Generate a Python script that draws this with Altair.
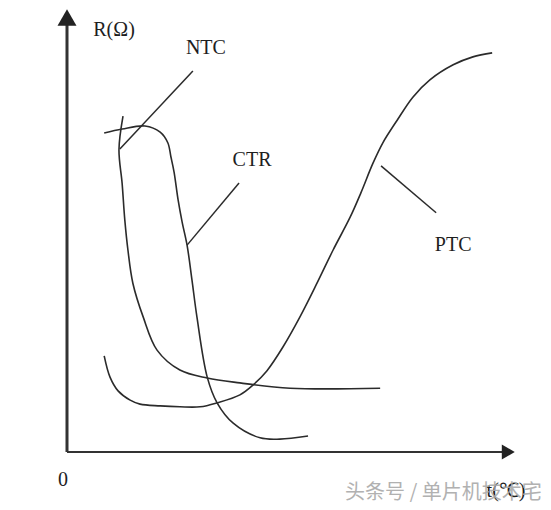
import altair as alt
import pandas as pd

# ---- curve data (temperature t, resistance R), arbitrary units ----
ntc_t = [12.5, 11.6, 12.3, 12.9, 13.6, 14.7, 17.0, 20.1, 25.2, 31.3, 38.6, 49.8, 69.9]
ntc_r = [75.8, 68.2, 60.7, 52.4, 45.6, 38.1, 30.5, 23.0, 18.5, 16.7, 15.6, 14.4, 14.4]

ctr_t = [8.3, 12.3, 17.4, 20.8, 22.5, 23.2, 23.9, 24.8, 25.7, 26.8, 27.9, 29.0, 31.3, 33.5, 37.1, 43.1, 47.5, 53.8]
ctr_r = [72.0, 72.9, 73.6, 72.2, 69.8, 66.6, 63.2, 56.9, 51.9, 46.7, 38.8, 30.5, 16.9, 11.1, 6.5, 3.2, 2.9, 3.6]

ptc_t = [8.3, 9.6, 11.4, 14.1, 16.3, 20.8, 25.2, 29.7, 33.5, 38.6, 41.5, 44.6, 48.2, 52.0,
         55.8, 59.4, 63.2, 65.6, 68.3, 70.5, 73.7, 77.2, 81.0, 86.2, 90.6, 94.9]
ptc_r = [21.7, 16.9, 13.8, 11.7, 10.8, 10.4, 10.2, 10.2, 11.1, 12.9, 15.1, 18.3, 23.7, 30.5,
         38.1, 45.6, 53.0, 58.5, 65.2, 69.8, 74.9, 80.1, 84.0, 87.4, 89.2, 90.1]

# ---- leader lines (start, end) ----
leader_names = ["NTC", "CTR", "PTC"]
leader_t0 = [28.1, 38.4, 70.1]
leader_r0 = [86.0, 60.7, 64.6]
leader_t1 = [11.8, 26.8, 82.4]
leader_r1 = [68.4, 46.7, 54.0]

# ---- labels ----
label_text = ["R(Ω)", "NTC", "CTR", "PTC", "0", "t(℃)"]
label_t = [10.5, 31.0, 41.3, 86.2, -0.9, 98.0]
label_r = [95.3, 91.2, 65.9, 46.7, -6.3, -8.9]

watermark = "头条号 / 单片机技术宅"
watermark_t = [84.0]
watermark_r = [-9.3]

# axis extent
axis_max = 100

# ---- build tables ----
rows = []
for name, ts, rs in [("NTC", ntc_t, ntc_r), ("CTR", ctr_t, ctr_r), ("PTC", ptc_t, ptc_r)]:
    for i, (t, r) in enumerate(zip(ts, rs)):
        rows.append({"t": t, "R": r, "series": name, "i": i})
curves = pd.DataFrame(rows)

lrows = []
for n, a, b, c, d in zip(leader_names, leader_t0, leader_r0, leader_t1, leader_r1):
    lrows.append({"t": a, "R": b, "name": n, "i": 0})
    lrows.append({"t": c, "R": d, "name": n, "i": 1})
leaders = pd.DataFrame(lrows)

labels = pd.DataFrame({"text": label_text, "t": label_t, "R": label_r})
wm = pd.DataFrame({"text": [watermark], "t": watermark_t, "R": watermark_r})

xs = alt.Scale(domain=[-13.17, 106.25], nice=False, zero=False)
ys = alt.Scale(domain=[-11.29, 100.23], nice=False, zero=False)

X = lambda f="t": alt.X(f"{f}:Q", scale=xs, axis=None)
Y = lambda f="R": alt.Y(f"{f}:Q", scale=ys, axis=None)

ink = "#2b2b2b"

curve_layer = alt.Chart(curves).mark_line(
    interpolate="catmull-rom", color=ink, strokeWidth=1.6
).encode(x=X(), y=Y(), detail="series:N", order="i:Q")

leader_layer = alt.Chart(leaders).mark_line(color=ink, strokeWidth=1.5).encode(
    x=X(), y=Y(), detail="name:N", order="i:Q"
)

axes_df = pd.DataFrame({"t0": [0, 0], "r0": [0, 0], "t1": [0, axis_max - 2.5], "r1": [axis_max - 3.5, 0],
                        "w": ["y", "x"]})
y_axis = alt.Chart(axes_df[axes_df.w == "y"]).mark_rule(color="#333333", strokeWidth=3).encode(
    x=X("t0"), y=Y("r0"), x2="t1:Q", y2="r1:Q"
)
x_axis = alt.Chart(axes_df[axes_df.w == "x"]).mark_rule(color="#333333", strokeWidth=2).encode(
    x=X("t0"), y=Y("r0"), x2="t1:Q", y2="r1:Q"
)

arrow_up = alt.Chart(pd.DataFrame({"t": [0], "R": [98.1]})).mark_point(
    shape="triangle-up", filled=True, size=360, color="#222222", opacity=1
).encode(x=X(), y=Y())
arrow_right = alt.Chart(pd.DataFrame({"t": [98.5], "R": [0]})).mark_point(
    shape="triangle-right", filled=True, size=225, color="#222222", opacity=1
).encode(x=X(), y=Y())

text_layer = alt.Chart(labels).mark_text(
    font="Liberation Serif", fontSize=20, color="#1e1e1e", align="center", baseline="middle"
).encode(x=X(), y=Y(), text="text:N")

wm_layer = alt.Chart(wm).mark_text(
    font="Noto Sans CJK SC", fontSize=20, color="#a9a9a9", align="center", baseline="middle", opacity=0.9
).encode(x=X(), y=Y(), text="text:N")

chart = alt.layer(
    y_axis, x_axis, arrow_up, arrow_right, curve_layer, leader_layer, text_layer, wm_layer
).properties(
    width=535, height=494, padding=0, autosize=alt.AutoSizeParams(type="none"), background="white"
).configure_view(stroke=None)

chart.save("out.html", embed_options={"renderer": "svg", "actions": False})
